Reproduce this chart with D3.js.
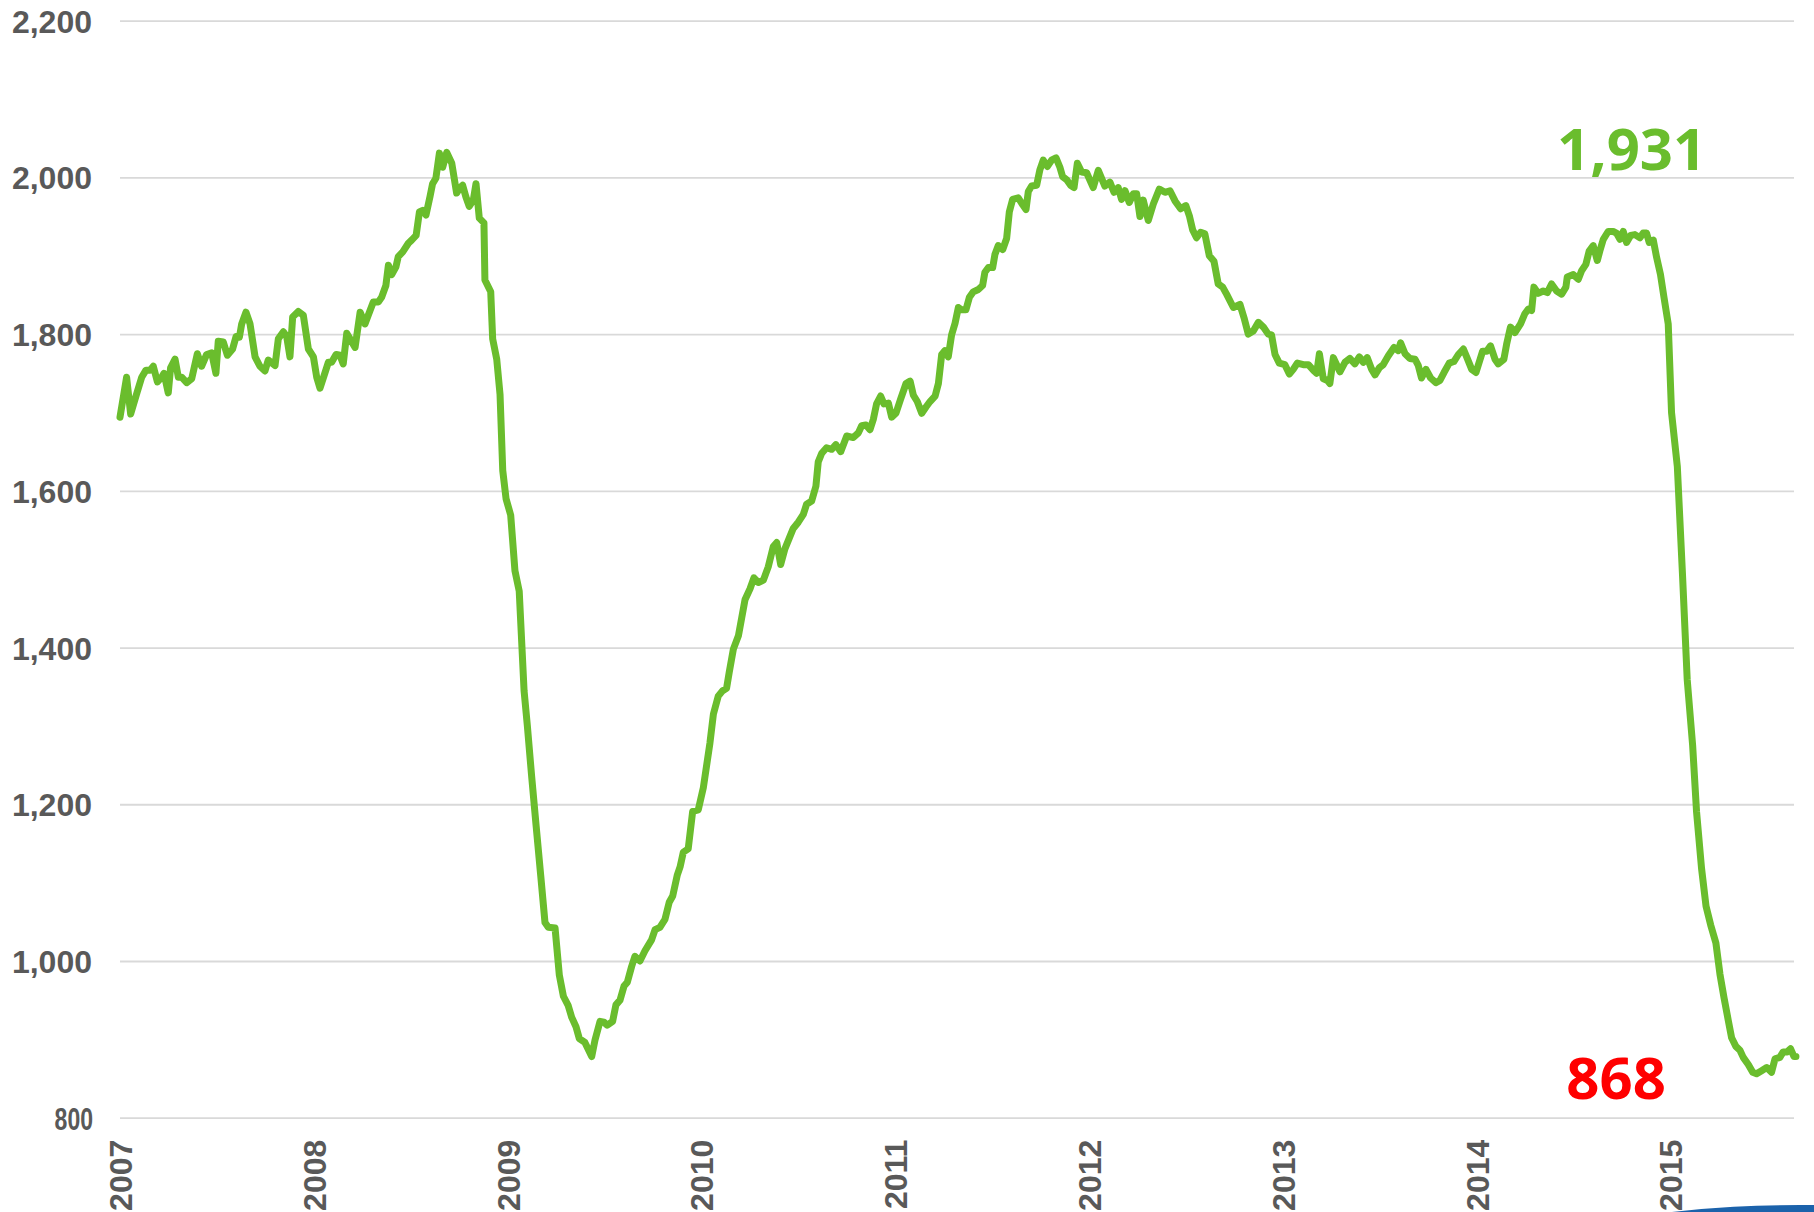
<!DOCTYPE html>
<head>
  <meta charset="utf-8">
  <title>Rig count 2007-2015</title>
  <script src="https://d3js.org/d3.v7.min.js"></script>
  <style>
    body { margin: 0; background: #fff; }
    svg { display: block; background: #fff; }
    .axis text {
      font-family: "Liberation Sans", Arial, sans-serif;
      font-weight: bold;
      font-size: 32px;
      fill: #595959;
    }
    .grid line { stroke: #d9d9d9; stroke-width: 1.8px; }
    .rigs { fill: none; stroke: #6abd2d; stroke-width: 7px; stroke-linejoin: round; stroke-linecap: round; }
    .note { font-family: "Noto Sans", "Open Sans", sans-serif; font-weight: bold; font-size: 58px; text-anchor: middle; }
  </style>
</head>

<body>
  <script>
    var W = 1814, H = 1212;
    var margin = {top: 20.7, right: 20, bottom: 94.3, left: 120};
    var width = 1794 - margin.left,
        height = H - margin.top - margin.bottom;

    // weekly rig count (decimal year, count)
    var years = [
      2007.000, 2007.034, 2007.055, 2007.086, 2007.112, 2007.134, 2007.155, 2007.172, 2007.193, 2007.215,
      2007.227, 2007.249, 2007.261, 2007.284, 2007.301, 2007.318, 2007.344, 2007.370, 2007.399, 2007.421,
      2007.447, 2007.473, 2007.495, 2007.507, 2007.533, 2007.554, 2007.581, 2007.599, 2007.616, 2007.628,
      2007.650, 2007.671, 2007.697, 2007.722, 2007.748, 2007.765, 2007.800, 2007.817, 2007.843, 2007.860,
      2007.877, 2007.891, 2007.920, 2007.946, 2007.972, 2007.998, 2008.015, 2008.032, 2008.053, 2008.075,
      2008.092, 2008.115, 2008.135, 2008.152, 2008.170, 2008.187, 2008.213, 2008.239, 2008.264, 2008.281,
      2008.307, 2008.333, 2008.350, 2008.372, 2008.385, 2008.402, 2008.424, 2008.436, 2008.459, 2008.488,
      2008.505, 2008.528, 2008.545, 2008.562, 2008.579, 2008.600, 2008.613, 2008.630, 2008.648, 2008.665,
      2008.686, 2008.712, 2008.737, 2008.755, 2008.768, 2008.785, 2008.802, 2008.823, 2008.837,
      2008.854, 2008.878, 2008.883, 2008.913, 2008.923, 2008.944, 2008.961, 2008.975, 2008.992, 2009.016,
      2009.038, 2009.060, 2009.085, 2009.102, 2009.124, 2009.147, 2009.171, 2009.193, 2009.210, 2009.245,
      2009.267, 2009.288, 2009.313, 2009.331, 2009.353, 2009.370, 2009.399, 2009.434, 2009.451, 2009.477,
      2009.497, 2009.514, 2009.542, 2009.559, 2009.580, 2009.601, 2009.618, 2009.640, 2009.657, 2009.683,
      2009.709, 2009.743, 2009.761, 2009.786, 2009.812, 2009.834, 2009.852, 2009.876, 2009.890, 2009.907,
      2009.932, 2009.955, 2009.984, 2010.010,
      2010.044, 2010.062, 2010.087, 2010.110, 2010.130, 2010.144, 2010.165, 2010.191, 2010.208, 2010.225,
      2010.251, 2010.271, 2010.294, 2010.320, 2010.345, 2010.371, 2010.389, 2010.409, 2010.431, 2010.454,
      2010.474, 2010.500, 2010.526, 2010.543, 2010.569, 2010.591, 2010.603, 2010.621, 2010.646, 2010.672,
      2010.694, 2010.719, 2010.750, 2010.784, 2010.810, 2010.827, 2010.849, 2010.870, 2010.887, 2010.904,
      2010.925, 2010.942, 2010.965, 2010.982, 2011.004, 2011.028, 2011.056, 2011.077, 2011.094, 2011.114,
      2011.137, 2011.159, 2011.180, 2011.206, 2011.223, 2011.240, 2011.257, 2011.274, 2011.291, 2011.309,
      2011.326, 2011.343, 2011.365, 2011.383, 2011.403, 2011.429, 2011.451, 2011.463, 2011.481, 2011.503,
      2011.515, 2011.532, 2011.555, 2011.575, 2011.589, 2011.606, 2011.635, 2011.658, 2011.675, 2011.687,
      2011.704, 2011.730, 2011.747, 2011.764, 2011.785, 2011.807, 2011.830, 2011.850, 2011.864, 2011.885,
      2011.905, 2011.923, 2011.940, 2011.962, 2011.988,
      2012.022, 2012.048, 2012.082, 2012.108, 2012.129, 2012.151, 2012.168, 2012.186, 2012.208, 2012.229,
      2012.246, 2012.263, 2012.280, 2012.306, 2012.332, 2012.363, 2012.392, 2012.418, 2012.444, 2012.473,
      2012.500, 2012.518, 2012.535, 2012.555, 2012.576, 2012.598, 2012.621, 2012.645, 2012.667, 2012.690,
      2012.710, 2012.745, 2012.779, 2012.800, 2012.822, 2012.848, 2012.874, 2012.900, 2012.925, 2012.942,
      2012.960, 2012.982, 2013.011, 2013.034, 2013.054, 2013.075, 2013.106, 2013.132, 2013.161, 2013.175,
      2013.189, 2013.209, 2013.230, 2013.243, 2013.261, 2013.278, 2013.295, 2013.321, 2013.346, 2013.372,
      2013.395, 2013.415, 2013.436, 2013.459, 2013.476, 2013.498, 2013.518, 2013.544, 2013.574, 2013.596,
      2013.608, 2013.631, 2013.656, 2013.682, 2013.699, 2013.716, 2013.739, 2013.763, 2013.790, 2013.811,
      2013.832, 2013.859, 2013.883, 2013.906, 2013.932, 2013.952, 2013.975, 2013.997,
      2014.031, 2014.052, 2014.072, 2014.095, 2014.112, 2014.141, 2014.155, 2014.175, 2014.198, 2014.227,
      2014.249, 2014.267, 2014.284, 2014.296, 2014.318, 2014.344, 2014.365, 2014.387, 2014.413, 2014.439,
      2014.461, 2014.468, 2014.499, 2014.525, 2014.542, 2014.564, 2014.581, 2014.602, 2014.623, 2014.636,
      2014.654, 2014.679, 2014.705, 2014.722, 2014.740, 2014.757, 2014.774, 2014.795, 2014.817, 2014.843,
      2014.860, 2014.877, 2014.891, 2014.912, 2014.929, 2014.949, 2014.967, 2014.989,
      2015.006, 2015.036, 2015.063, 2015.087, 2015.115, 2015.135, 2015.161, 2015.184, 2015.208, 2015.235,
      2015.256, 2015.277, 2015.299, 2015.316, 2015.338, 2015.359, 2015.376, 2015.402, 2015.425, 2015.445,
      2015.471, 2015.497, 2015.522, 2015.540, 2015.565, 2015.582, 2015.603, 2015.620, 2015.638, 2015.648
    ];

    var rigCount = [
      1694, 1745, 1698, 1724, 1745, 1754, 1754, 1759, 1739, 1745,
      1750, 1725, 1757, 1768, 1745, 1745, 1738, 1743, 1775, 1759,
      1774, 1776, 1750, 1791, 1790, 1773, 1781, 1797, 1796, 1813,
      1828, 1813, 1771, 1759, 1753, 1767, 1760, 1794, 1803, 1797,
      1771, 1822, 1829, 1824, 1781, 1771, 1745, 1731, 1747, 1764,
      1764, 1774, 1773, 1762, 1801, 1794, 1783, 1828, 1813, 1824,
      1841, 1841, 1847, 1862, 1888, 1876, 1886, 1899, 1905, 1916,
      1920, 1926, 1956, 1958, 1952, 1976, 1992, 1999, 2031, 2013,
      2032, 2018, 1980, 1987, 1990, 1975, 1963, 1971, 1992,
      1948, 1942, 1869, 1854, 1794, 1768, 1723, 1626, 1590, 1569,
      1498, 1472, 1345, 1300, 1236, 1173, 1109, 1049, 1043, 1042,
      982, 955, 943, 928, 916, 901, 896, 878, 899, 923,
      922, 918, 923, 944, 950, 968, 973, 993, 1006, 1000,
      1013, 1027, 1040, 1043, 1053, 1075, 1083, 1110, 1120, 1139,
      1143, 1191, 1193, 1221,
      1278, 1315, 1338, 1345, 1348, 1369, 1398, 1415, 1438, 1461,
      1475, 1489, 1483, 1486, 1503, 1529, 1534, 1506, 1526, 1540,
      1552, 1560, 1570, 1583, 1587, 1606, 1637, 1648, 1655, 1653,
      1659, 1650, 1670, 1668, 1674, 1683, 1684, 1678, 1691, 1711,
      1721, 1711, 1712, 1694, 1699, 1717, 1737, 1740, 1722, 1714,
      1699, 1707, 1714, 1721, 1737, 1774, 1779, 1771, 1799, 1814,
      1834, 1831, 1831, 1847, 1854, 1857, 1862, 1879, 1885, 1885,
      1902, 1913, 1908, 1922, 1956, 1972, 1974, 1965, 1959, 1982,
      1989, 1990, 2010, 2022, 2014, 2022, 2025, 2013, 2001, 1997,
      1990, 1987, 2018, 2007, 2006,
      1987, 2009, 1989, 1994, 1981, 1987, 1972, 1983, 1968, 1979,
      1979, 1950, 1971, 1945, 1966, 1985, 1981, 1983, 1970, 1960,
      1964, 1951, 1933, 1923, 1930, 1928, 1900, 1893, 1864, 1860,
      1851, 1834, 1838, 1821, 1800, 1804, 1815, 1809, 1800, 1799,
      1774, 1763, 1761, 1749, 1755, 1763, 1761, 1761, 1753, 1750,
      1775, 1743, 1741, 1737, 1770, 1761, 1752, 1764, 1769, 1762,
      1771, 1764, 1770, 1755, 1748, 1757, 1761, 1772, 1783, 1779,
      1789, 1775, 1769, 1768, 1760, 1744, 1755, 1744, 1738, 1741,
      1751, 1763, 1765, 1774, 1781, 1769, 1755, 1751,
      1778, 1778, 1785, 1768, 1762, 1768, 1787, 1809, 1802, 1813,
      1826, 1832, 1830, 1860, 1852, 1855, 1853, 1864, 1855, 1851,
      1860, 1873, 1876, 1870, 1881, 1889, 1906, 1913, 1894, 1906,
      1921, 1931, 1931, 1929, 1921, 1931, 1917, 1926, 1927, 1923,
      1929, 1929, 1917, 1920, 1898, 1876, 1847, 1813,
      1700, 1631, 1491, 1359, 1275, 1191, 1118, 1070, 1046, 1023,
      983, 953, 924, 902, 891, 886, 877, 868, 858, 856,
      860, 864, 858, 875, 877, 884, 884, 888, 878, 878
    ];

    var yTicks = [800, 1000, 1200, 1400, 1600, 1800, 2000, 2200];
    var xTicks = [2007, 2008, 2009, 2010, 2011, 2012, 2013, 2014, 2015];

    var peakNote = {year: 2014.80, value: 2009, text: "1,931", colour: "#6abd2d"};
    var lowNote = {year: 2014.72, value: 824, text: "868", colour: "#ff0000"};

    var data = years.map(function(y, i) { return {year: y, value: rigCount[i]}; });

    var svg = d3.select("body").append("svg")
      .attr("width", W)
      .attr("height", H);

    var g = svg.append("g")
      .attr("transform", "translate(" + margin.left + "," + margin.top + ")");

    var x = d3.scaleLinear()
      .domain([2007, 2015.638])
      .range([0, width]);

    var y = d3.scaleLinear()
      .domain([800, 2200])
      .range([height, 0]);

    // gridlines + value labels
    var yAxis = g.append("g")
      .attr("class", "axis grid")
      .call(d3.axisLeft(y)
        .tickValues(yTicks)
        .tickSize(-width)
        .tickPadding(28)
        .tickFormat(d3.format(",")));
    yAxis.select(".domain").remove();
    yAxis.selectAll("text").attr("dy", "0.36em");
    // the 800 label is squeezed sideways in the original
    yAxis.selectAll("text").filter(function(d) { return d === 800; })
      .attr("x", -27 / 0.72)
      .attr("transform", "scale(0.72,1)");

    // year labels, rotated
    var xAxis = g.append("g")
      .attr("class", "axis")
      .attr("transform", "translate(0," + height + ")")
      .call(d3.axisBottom(x)
        .tickValues(xTicks)
        .tickSize(0)
        .tickFormat(d3.format("d")));
    xAxis.select(".domain").remove();
    xAxis.selectAll("text")
      .attr("transform", "rotate(-90)")
      .attr("x", -22)
      .attr("y", 0)
      .attr("dy", "0.36em")
      .style("text-anchor", "end");

    var line = d3.line()
      .x(function(d) { return x(d.year); })
      .y(function(d) { return y(d.value); });

    g.append("path")
      .datum(data)
      .attr("class", "rigs")
      .attr("d", line);

    [peakNote, lowNote].forEach(function(n) {
      g.append("text")
        .attr("class", "note")
        .attr("x", x(n.year))
        .attr("y", y(n.value))
        .style("fill", n.colour)
        .text(n.text);
    });

    // logo fragment at the bottom corner
    svg.append("ellipse")
      .attr("cx", 1800)
      .attr("cy", 1300)
      .attr("rx", 340)
      .attr("ry", 95)
      .style("fill", "#1b62ab");
  </script>
</body>
